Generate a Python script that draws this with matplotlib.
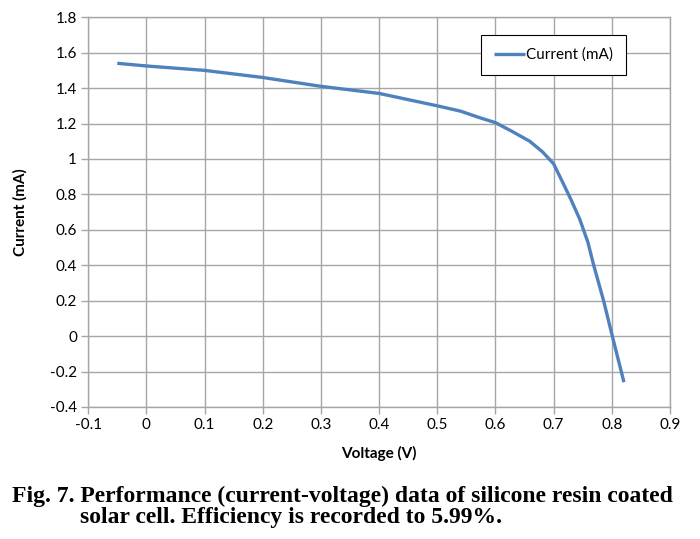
import numpy as np
import matplotlib
matplotlib.use('Agg')
import matplotlib.pyplot as plt

# I-V curve
voltage = [-0.05, 0.0, 0.1, 0.2, 0.3, 0.4, 0.45, 0.5, 0.54, 0.572, 0.6, 0.629,
           0.659, 0.681, 0.7, 0.716, 0.73, 0.745, 0.759, 0.769, 0.786, 0.801, 0.821]
current = [1.54, 1.525, 1.50, 1.46, 1.41, 1.37, 1.335, 1.30, 1.27, 1.234, 1.205,
           1.155, 1.10, 1.04, 0.973, 0.866, 0.77, 0.66, 0.53, 0.40, 0.20, 0.00, -0.26]

x_ticks = np.round(np.arange(-0.1, 0.91, 0.1), 1)
y_ticks = np.round(np.arange(-0.4, 1.81, 0.2), 1)

SANS = ['Lato', 'DejaVu Sans']
GRID = '#A6A6A6'

fig = plt.figure(figsize=(7.0, 5.39), dpi=100)
ax = fig.add_axes([0.126, 0.245, 0.831, 0.723])

ax.plot(voltage, current, color='#4F81BD', lw=2.4, label='Current (mA)',
        solid_joinstyle='round', solid_capstyle='butt')

ax.set_xlim(-0.1, 0.9)
ax.set_ylim(-0.4, 1.8)
ax.set_xticks(x_ticks)
ax.set_yticks(y_ticks)
ax.set_xticklabels(['0' if v == 0 else f'{v:g}' for v in x_ticks], family=SANS, fontsize=11)
ax.set_yticklabels(['0' if v == 0 else ('1' if v == 1 else f'{v:g}') for v in y_ticks],
                   family=SANS, fontsize=11)
ax.grid(True, color=GRID, lw=1.0)
ax.set_axisbelow(True)
for s in ax.spines.values():
    s.set_color(GRID)
    s.set_linewidth(1.0)
ax.tick_params(length=5, color=GRID, width=1.0, pad=3)

ax.set_xlabel('Voltage (V)', family=SANS, fontsize=11, fontweight='bold', labelpad=10)
ax.set_ylabel('Current (mA)', family=SANS, fontsize=11, fontweight='bold', labelpad=16)

leg = ax.legend(loc='upper right', bbox_to_anchor=(0.925, 0.955), prop={'family': SANS, 'size': 11},
                fancybox=False, framealpha=1, edgecolor='black', handlelength=2.0,
                handletextpad=0.1, borderpad=0.85, borderaxespad=0)
leg.get_frame().set_linewidth(0.8)

fig.text(0.017, 0.069, 'Fig. 7. Performance (current-voltage) data of silicone resin coated',
         family='Liberation Serif', fontweight='bold', fontsize=17, va='baseline')
fig.text(0.114, 0.029, 'solar cell. Efficiency is recorded to 5.99%.',
         family='Liberation Serif', fontweight='bold', fontsize=17, va='baseline')

fig.savefig('out.png', dpi=100)
